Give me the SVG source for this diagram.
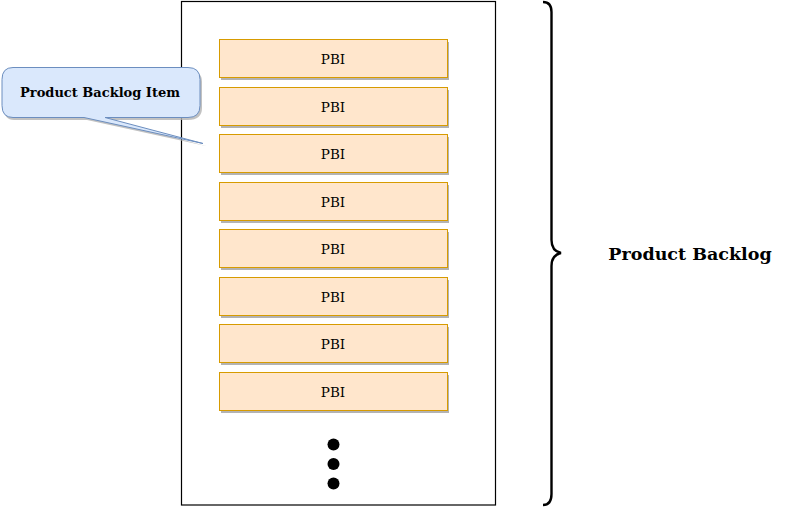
<svg xmlns="http://www.w3.org/2000/svg" width="800" height="507" viewBox="0 0 800 507">
<defs>
<style>
.pbi rect.box{fill:#ffe6cc;stroke:#d79b00;stroke-width:1}
.pbi rect.sh{fill:#b3b3b3}
.pbi text{font-family:Georgia,"DejaVu Serif","Liberation Serif",serif;font-size:13.5px;fill:#000;text-anchor:middle;dominant-baseline:central}
.bold{font-family:Georgia,"DejaVu Serif","Liberation Serif",serif;font-weight:bold;fill:#000}
</style>
</defs>
<rect width="800" height="507" fill="#fff"/>
<g id="backlog-box">
<rect x="181.5" y="1.5" width="314" height="503.5" fill="#fff" stroke="#000" stroke-width="1.2"/>
</g>
<g id="pbi1" class="pbi"><rect class="sh" x="221" y="42" width="228" height="38"/><rect class="box" x="219.5" y="39.5" width="228" height="38"/><text x="333" y="58.5">PBI</text></g>
<g id="pbi2" class="pbi"><rect class="sh" x="221" y="90" width="228" height="38"/><rect class="box" x="219.5" y="87.5" width="228" height="38"/><text x="333" y="106.5">PBI</text></g>
<g id="pbi3" class="pbi"><rect class="sh" x="221" y="137" width="228" height="38"/><rect class="box" x="219.5" y="134.5" width="228" height="38"/><text x="333" y="153.5">PBI</text></g>
<g id="pbi4" class="pbi"><rect class="sh" x="221" y="185" width="228" height="38"/><rect class="box" x="219.5" y="182.5" width="228" height="38"/><text x="333" y="201.5">PBI</text></g>
<g id="pbi5" class="pbi"><rect class="sh" x="221" y="232" width="228" height="38"/><rect class="box" x="219.5" y="229.5" width="228" height="38"/><text x="333" y="248.5">PBI</text></g>
<g id="pbi6" class="pbi"><rect class="sh" x="221" y="280" width="228" height="38"/><rect class="box" x="219.5" y="277.5" width="228" height="38"/><text x="333" y="296.5">PBI</text></g>
<g id="pbi7" class="pbi"><rect class="sh" x="221" y="327" width="228" height="38"/><rect class="box" x="219.5" y="324.5" width="228" height="38"/><text x="333" y="343.5">PBI</text></g>
<g id="pbi8" class="pbi"><rect class="sh" x="221" y="375" width="228" height="38"/><rect class="box" x="219.5" y="372.5" width="228" height="38"/><text x="333" y="391.5">PBI</text></g>
<g id="ellipsis" fill="#000">
<circle cx="333.5" cy="444.5" r="6"/>
<circle cx="333.5" cy="464" r="6"/>
<circle cx="333.5" cy="483.5" r="6"/>
</g>
<g id="callout">
<path d="M14 70 H188 Q202 70 202 82 V108 Q202 120 188 120 H108 L206 146 L87 120 H14 Q4 120 4 108 V82 Q4 70 14 70 Z" fill="#b3b3b3" opacity="0.8"/>
<path d="M13 67.5 H188 Q200 67.5 200 79.5 V105.5 Q200 117.5 188 117.5 H105 L203 143.5 L84 117.5 H13 Q2 117.5 2 105.5 V79.5 Q2 67.5 13 67.5 Z" fill="#dae8fc" stroke="#6c8ebf" stroke-width="1"/>
<text class="bold" x="100" y="92.5" font-size="13" text-anchor="middle" dominant-baseline="central">Product Backlog Item</text>
</g>
<g id="brace">
<path d="M543 2 Q551.5 2 551.5 12 V240 Q551.5 251 561 253 Q551.5 255 551.5 266 V494 Q551.5 505 543 505" fill="none" stroke="#000" stroke-width="2.4"/>
</g>
<g id="label">
<text class="bold" x="690" y="254" font-size="17.5" text-anchor="middle" dominant-baseline="central">Product Backlog</text>
</g>
</svg>
